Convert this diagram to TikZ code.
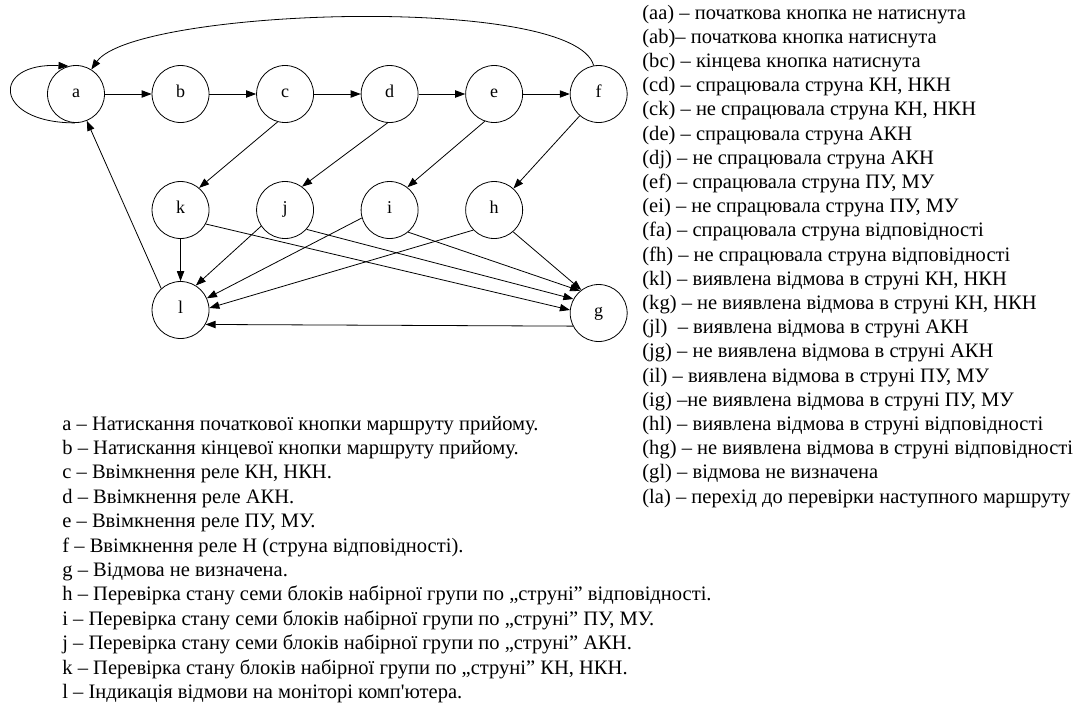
\documentclass[tikz,border=0pt]{standalone}
\usepackage{fontspec}
\setmainfont{Liberation Serif}
\usetikzlibrary{arrows.meta,positioning}
\tikzset{state/.style={circle,draw,line width=0.6pt,minimum size=42.75pt,inner sep=0pt,text height=1.5ex,text depth=0.3ex,font=\fontsize{13.5}{15}\selectfont}}
\tikzset{legend/.style={anchor=base west,inner sep=0pt,font=\fontsize{15.4}{17}\selectfont}}

\begin{document}
\begin{tikzpicture}[x=0.75pt,y=0.75pt,node distance=78.4pt,>={Triangle[length=7.5pt,width=5.5pt]},line width=0.6pt]
            \useasboundingbox (0,0) rectangle (1077,-704);

            % TOP ROW

            \node[state] (a) at (76,-94) {a};
            \node[state,right of=a] (b) {b};
            \node[state,right of=b] (c) {c};
            \node[state,right of=c] (d) {d};
            \node[state,right of=d] (e) {e};
            \node[state,right of=e] (f) {f};

            \path[->] (a) edge (b);
            \path[->] (b) edge (c);
            \path[->] (c) edge (d);
            \path[->] (d) edge (e);
            \path[->] (e) edge (f);
            \draw[->] (a.268) .. controls +(-82,0) and +(-78,4) .. (a.105);
            \path[->] (f.100) edge[out=105,in=55,looseness=0.38] (a.58);

            % CHECK ROW

            \node[state,below of=b,node distance=87pt] (k) {k};
            \node[state,right of=k] (j) {j};
            \node[state,right of=j] (i) {i};
            \node[state,right of=i] (h) {h};

            \path[->] (c.255) edge (k.50);
            \path[->] (d.266) edge (j.54);
            \path[->] (e.251) edge (i.52);
            \path[->] (f.229) edge (h.48);

            % RESULT ROW

            \node[state,below of=k,node distance=75pt] (l) {l};
            \node[state,below of=f,node distance=164.25pt] (g) {g};

            \path[->] (k) edge (l);
            \path[->] (k.331) edge (g.174);
            \path[->] (j.214) edge (l.58);
            \path[->] (j.318) edge (g.151);
            \path[->] (i.196) edge (l.24);
            \path[->] (i.310) edge (g.130);
            \path[->] (h.224) edge (l.4);
            \path[->] (h.311) edge (g.127);
            \path[->] (g.207) edge (l.330);
            \path[->] (l.132) edge (a.292);

            % LEGEND

            \foreach \t [count=\n] in {{(aa) – початкова кнопка не натиснута},
                {(ab)– початкова кнопка натиснута},
                {(bc) – кінцева кнопка натиснута},
                {(cd) – спрацювала струна КН, НКН},
                {(ck) – не спрацювала струна КН, НКН},
                {(de) – спрацювала струна АКН},
                {(dj) – не спрацювала струна АКН},
                {(ef) – спрацювала струна ПУ, МУ},
                {(ei) – не спрацювала струна ПУ, МУ},
                {(fa) – спрацювала струна відповідності},
                {(fh) – не спрацювала струна відповідності},
                {(kl) – виявлена відмова в струні КН, НКН},
                {(kg) – не виявлена відмова в струні КН, НКН},
                {(jl)\ \ – виявлена відмова в струні АКН},
                {(jg) – не виявлена відмова в струні АКН},
                {(il) – виявлена відмова в струні ПУ, МУ},
                {(ig) –не виявлена відмова в струні ПУ, МУ},
                {(hl) – виявлена відмова в струні відповідності},
                {(hg) – не виявлена відмова в струні відповідності},
                {(gl) – відмова не визначена},
                {(la) – перехід до перевірки наступного маршруту}}
                \node[legend] (tr\n) at (642,{-19-24.2*(\n-1)}) {\t};

            \foreach \t [count=\n] in {{a – Натискання початкової кнопки маршруту прийому.},
                {b – Натискання кінцевої кнопки маршруту прийому.},
                {c – Ввімкнення реле КН, НКН.},
                {d – Ввімкнення реле АКН.},
                {e – Ввімкнення реле ПУ, МУ.},
                {f – Ввімкнення реле Н (струна відповідності).},
                {g – Відмова не визначена.},
                {h – Перевірка стану семи блоків набірної групи по „струні” відповідності.},
                {i – Перевірка стану семи блоків набірної групи по „струні” ПУ, МУ.},
                {j – Перевірка стану семи блоків набірної групи по „струні” АКН.},
                {k – Перевірка стану блоків набірної групи по „струні” КН, НКН.},
                {l – Індикація відмови на моніторі комп\textquotesingle ютера.}}
                \node[legend] (st\n) at (62,{-430-24.4*(\n-1)}) {\t};

        \end{tikzpicture}
\end{document}
